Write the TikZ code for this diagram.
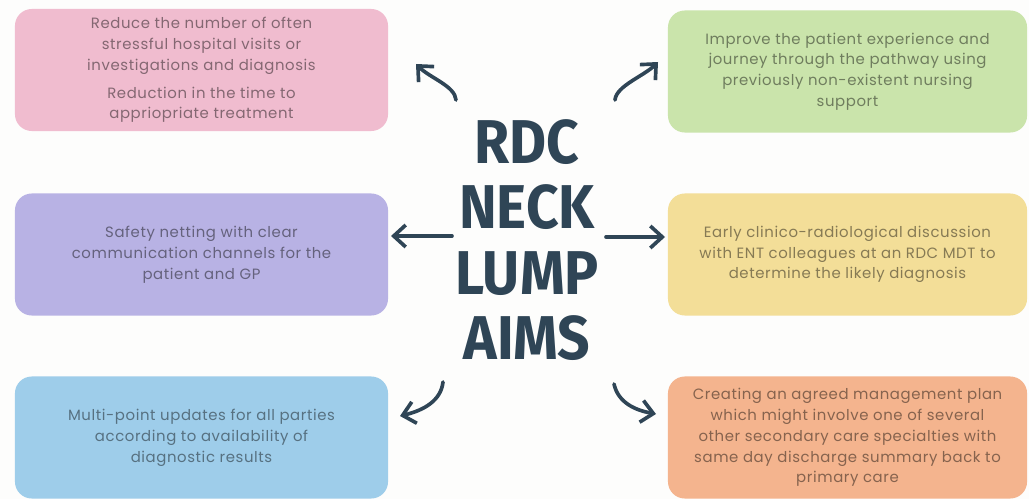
\documentclass[tikz,border=0pt]{standalone}
\usepackage{xcolor}
\usepackage{tikz}
\usepackage{fontspec}
\usetikzlibrary{arrows.meta, positioning}
\setmainfont{Poppins}[LetterSpace=4]
\newfontfamily\titlefont{Fira Sans}
\definecolor{boxPink}{HTML}{F0BCCF}
\definecolor{boxGreen}{HTML}{CAE4AB}
\definecolor{boxPurple}{HTML}{B8B2E4}
\definecolor{boxYellow}{HTML}{F3DE98}
\definecolor{boxBlue}{HTML}{9ECDEA}
\definecolor{boxOrange}{HTML}{F4B48E}
\definecolor{inkSlate}{HTML}{2F4556}
\definecolor{pageBg}{HTML}{FDFDFC}

\begin{document}
\begin{tikzpicture}[
    x=0.025cm, y=-0.025cm,
    aimbox/.style={rounded corners=12pt, minimum width=9.325cm, minimum height=3.05cm, font=\fontsize{10.6}{14.8}\selectfont, align=center, inner sep=0pt},
    rightbox/.style={aimbox, minimum width=8.975cm},
    arrow/.style={-{Straight Barb[length=3mm, width=5.5mm]}, line width=2.6pt, line cap=round, draw=inkSlate},
]
    \fill[pageBg] (0,0) rectangle (1029,499);
    \useasboundingbox (0,0) rectangle (1029,499);

    \node[aimbox, fill=boxPink, text=boxPink!55!black] (visits) at (201.5,70) {Reduce the number of often\\stressful hospital visits or\\investigations and diagnosis\\[1.8mm]Reduction in the time to\\appriopriate treatment};
    \node[rightbox, fill=boxGreen, text=boxGreen!55!black] (journey) at (847.5,71.5) {Improve the patient experience and\\journey through the pathway using\\previously non-existent nursing\\support};
    \node[aimbox, fill=boxPurple, text=boxPurple!55!black] (safety) at (201.5,254.5) {Safety netting with clear\\communication channels for the\\patient and GP};
    \node[rightbox, fill=boxYellow, text=boxYellow!55!black] (mdt) at (847.5,254.5) {Early clinico-radiological discussion\\with ENT colleagues at an RDC MDT to\\determine the likely diagnosis};
    \node[aimbox, fill=boxBlue, text=boxBlue!55!black] (updates) at (201.5,437.5) {Multi-point updates for all parties\\according to availability of\\diagnostic results};
    \node[rightbox, fill=boxOrange, text=boxOrange!55!black] (plan) at (847.5,437.5) {Creating an agreed management plan\\which might involve one of several\\other secondary care specialties with\\same day discharge summary back to\\primary care};

    \node[align=center, text=inkSlate, font=\titlefont\bfseries\fontsize{44}{46.5}\selectfont] (aims) at (527,240) {\scalebox{0.92}[1]{RDC}\\\scalebox{0.92}[1]{NECK}\\\scalebox{0.92}[1]{LUMP}\\\scalebox{0.92}[1]{AIMS}};

    \coordinate (tlS) at (456,100);
    \coordinate (tlE) at (416,64);
    \coordinate (trS) at (615,100);
    \coordinate (trE) at (658,62);
    \coordinate (mlS) at (452,236);
    \coordinate (mrS) at (606,237);
    \coordinate (blS) at (443,382);
    \coordinate (blE) at (400,416);
    \coordinate (brS) at (614,384);
    \coordinate (brE) at (656,414);

    \draw[arrow] (tlS) .. controls (455,86) and (430,78) .. (tlE);
    \draw[arrow] (trS) .. controls (616,86) and (644,76) .. (trE);
    \draw[arrow] (mlS) -- (mlS -| 391,0);
    \draw[arrow] (mrS) -- (mrS -| 665,0);
    \draw[arrow] (blS) .. controls (441,400) and (425,410) .. (blE);
    \draw[arrow] (brS) .. controls (618,402) and (634,410) .. (brE);
\end{tikzpicture}
\end{document}
